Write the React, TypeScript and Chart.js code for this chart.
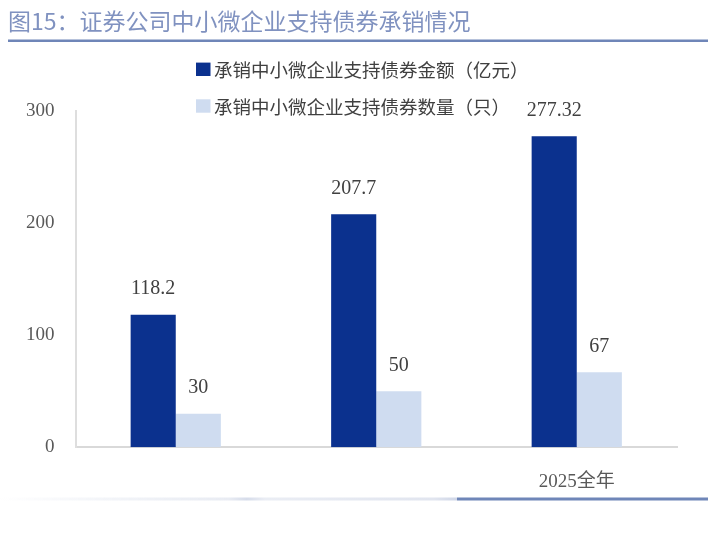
import { useEffect, useRef } from "react"
import { Chart, registerables, type ChartConfiguration, type Plugin } from "chart.js"

Chart.register(...registerables)

const categories = ["", "", "2025全年"]
const amountValues = [118.2, 207.7, 277.32]
const countValues = [30, 50, 67]
const amountLabels = ["118.2", "207.7", "277.32"]
const countLabels = ["30", "50", "67"]
const seriesNames = ["承销中小微企业支持债券金额（亿元）", "承销中小微企业支持债券数量（只）"]
const titleText = "图15：证券公司中小微企业支持债券承销情况"

const DARK = "#0b318e"
const LIGHT = "#cfdcf0"
const SERIF = "'Liberation Serif', 'Times New Roman', 'Noto Sans CJK SC', serif"
const SANS = "'Noto Sans CJK SC', 'Noto Sans', sans-serif"

// title, rules, legend and value labels drawn straight on the canvas
const decorations: Plugin = {
  id: "decorations",
  afterDraw(chart) {
    const ctx = chart.ctx
    ctx.save()

    // title
    ctx.fillStyle = "#8092c0"
    ctx.font = `23px ${SANS}`
    ctx.textAlign = "left"
    ctx.textBaseline = "middle"
    ctx.fillText(titleText, 8, 21)

    // rule under title
    ctx.fillStyle = "#6f86b8"
    ctx.fillRect(8, 39.5, 700, 2.5)

    // bottom rule: faded part then solid part
    const grad = ctx.createLinearGradient(0, 0, 457, 0)
    grad.addColorStop(0, "rgba(225,230,240,0)")
    grad.addColorStop(0.5, "#e9ecf3")
    grad.addColorStop(0.54, "#d6dcea")
    grad.addColorStop(0.58, "#eaedf4")
    grad.addColorStop(0.95, "#e1e5ef")
    grad.addColorStop(1, "#cfd6e7")
    ctx.fillStyle = grad
    ctx.fillRect(0, 497.5, 457, 3)
    ctx.fillStyle = "#6f86b8"
    ctx.fillRect(457, 497.5, 251, 3)

    // legend
    const colors = [DARK, LIGHT]
    const rows = [69.3, 106]
    ctx.font = `18.5px ${SANS}`
    seriesNames.forEach((name, i) => {
      ctx.fillStyle = colors[i]
      ctx.fillRect(196, rows[i] - 6.7, 14.5, 13.4)
      ctx.fillStyle = "#404040"
      ctx.fillText(name, 214, rows[i] + 0.5)
    })

    // value labels above bars
    ctx.font = `20px ${SERIF}`
    ctx.textAlign = "center"
    ctx.fillStyle = "#404040"
    const labelSets = [amountLabels, countLabels]
    chart.data.datasets.forEach((_, di) => {
      const meta = chart.getDatasetMeta(di)
      meta.data.forEach((bar, i) => {
        const { x, y } = bar.getProps(["x", "y"], true)
        ctx.fillText(labelSets[di][i], x, y - 25.5)
      })
    })

    ctx.restore()
  },
}

export default function App() {
  const chartRef = useRef<HTMLCanvasElement>(null)
  const chartInstance = useRef<Chart | null>(null)

  useEffect(() => {
    if (!chartRef.current) return
    const ctx = chartRef.current.getContext("2d")
    if (!ctx) return

    if (chartInstance.current) {
      chartInstance.current.destroy()
    }

    const config: ChartConfiguration<"bar"> = {
      type: "bar",
      data: {
        labels: categories,
        datasets: [
          {
            label: seriesNames[0],
            data: amountValues,
            backgroundColor: DARK,
            categoryPercentage: 0.45,
            barPercentage: 1.0,
          },
          {
            label: seriesNames[1],
            data: countValues,
            backgroundColor: LIGHT,
            categoryPercentage: 0.45,
            barPercentage: 1.0,
          },
        ],
      },
      options: {
        responsive: true,
        maintainAspectRatio: false,
        animation: false,
        layout: {
          padding: { top: 110.7, right: 31, bottom: 0, left: 0 },
        },
        scales: {
          x: {
            grid: { display: false, drawTicks: false },
            border: { display: true, color: "#d9d9d9", width: 2 },
            ticks: {
              padding: 23,
              color: "#595959",
              font: { family: SERIF, size: 19 },
              maxRotation: 0,
            },
            afterFit: (scale) => {
              scale.height = 88.7
            },
          },
          y: {
            min: 0,
            max: 300,
            grid: { display: false, drawTicks: false },
            border: { display: true, color: "#dedede", width: 2 },
            ticks: {
              stepSize: 100,
              padding: 21,
              color: "#595959",
              font: { family: SERIF, size: 19 },
            },
            afterFit: (scale) => {
              scale.width = 75.5
            },
          },
        },
        plugins: {
          legend: { display: false },
          title: { display: false },
          tooltip: { enabled: false },
        },
      },
      plugins: [decorations],
    }

    chartInstance.current = new Chart(ctx, config)

    return () => {
      if (chartInstance.current) {
        chartInstance.current.destroy()
        chartInstance.current = null
      }
    }
  }, [])

  return (
    <div style={{ position: "fixed", left: 0, top: 0, width: 708, height: 536, background: "#fff" }}>
      <canvas ref={chartRef} />
    </div>
  )
}
